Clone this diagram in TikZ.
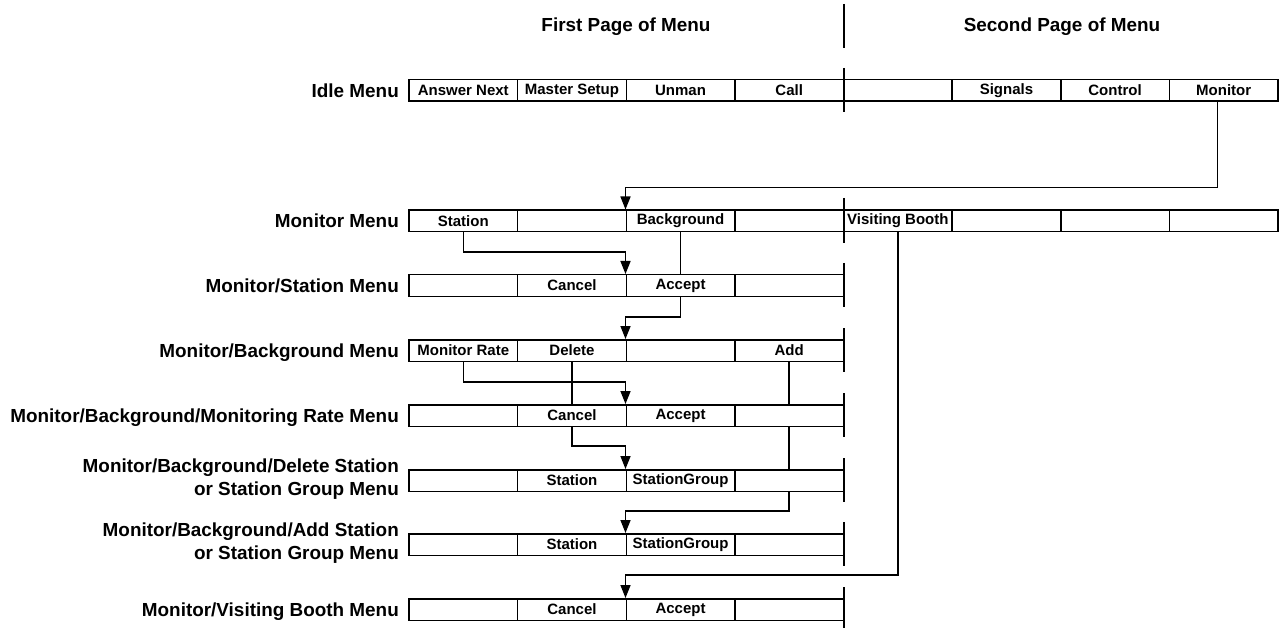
\documentclass[tikz,border=0pt]{standalone}
\usepackage{fontspec}
\setmainfont{Liberation Sans}
\usetikzlibrary{arrows.meta}
\begin{document}
\begin{tikzpicture}[x=1pt,y=-1pt,
  cell/.style={draw,line width=1.5pt,minimum width=108.625pt,minimum height=21.5pt,inner sep=0pt,font=\fontsize{15}{18}\selectfont\bfseries},
  rowlabel/.style={anchor=base east,font=\fontsize{18.9}{23}\selectfont\bfseries,inner sep=0pt},
  rowlabeltwo/.style={anchor=east,align=right,font=\fontsize{18.9}{23.5}\selectfont\bfseries,inner sep=0pt},
  header/.style={anchor=base,font=\fontsize{18.9}{23}\selectfont\bfseries,inner sep=0pt},
  conn/.style={line width=1.5pt},
  arr/.style={conn,-{Triangle[length=13pt,width=10pt]}},
  sep/.style={line width=1.6pt}]
\useasboundingbox (0,0) rectangle (1279,628);

% headers
\node[header] (h1) at (626,31.5) {First Page of Menu};
\node[header] (h2) at (1062,31.5) {Second Page of Menu};

% row labels
\node[rowlabel] (lidle) at (399,97.3) {Idle Menu};
\node[rowlabel] (lmon) at (399,227.8) {Monitor Menu};
\node[rowlabel] (lsta) at (399,292.3) {Monitor/Station Menu};
\node[rowlabel] (lbg) at (399,357.3) {Monitor/Background Menu};
\node[rowlabel] (lrate) at (399,422.3) {Monitor/Background/Monitoring Rate Menu};
\node[rowlabeltwo] (ldel) at (399,479) {Monitor/Background/Delete Station\\or Station Group Menu};
\node[rowlabeltwo] (ladd) at (399,543) {Monitor/Background/Add Station\\or Station Group Menu};
\node[rowlabel] (lvis) at (399,616.3) {Monitor/Visiting Booth Menu};

% rows of cells
\foreach \i/\t in {1/Answer Next,2/Master Setup,3/Unman,4/Call,5/,6/Signals,7/Control,8/Monitor}
  \node[cell] (idle\i) at ({409+108.625*(\i-0.5)},90.5) {\t};
\foreach \i/\t in {1/Station,2/,3/Background,4/,5/Visiting Booth,6/,7/,8/}
  \node[cell] (mon\i) at ({409+108.625*(\i-0.5)},221) {\t};
\foreach \i/\t in {1/,2/Cancel,3/Accept,4/}
  \node[cell] (sta\i) at ({409+108.625*(\i-0.5)},285.5) {\t};
\foreach \i/\t in {1/Monitor Rate,2/Delete,3/,4/Add}
  \node[cell] (bg\i) at ({409+108.625*(\i-0.5)},350.5) {\t};
\foreach \i/\t in {1/,2/Cancel,3/Accept,4/}
  \node[cell] (rate\i) at ({409+108.625*(\i-0.5)},415.5) {\t};
\foreach \i/\t in {1/,2/Station,3/StationGroup,4/}
  \node[cell] (del\i) at ({409+108.625*(\i-0.5)},480.5) {\t};
\foreach \i/\t in {1/,2/Station,3/StationGroup,4/}
  \node[cell] (add\i) at ({409+108.625*(\i-0.5)},544.5) {\t};
\foreach \i/\t in {1/,2/Cancel,3/Accept,4/}
  \node[cell] (vis\i) at ({409+108.625*(\i-0.5)},609.5) {\t};

% page separator
\draw[sep] (844,4) -- (844,48);
\foreach \yt/\yb in {80/101, 210/232, 275/296, 340/361, 405/426, 470/491, 534/555}
  \draw[sep] (844,\yt-12) -- (844,\yb+11);
\draw[sep] (844,587) -- (844,632);

% connectors
\draw[arr] ([xshift=-6pt]idle8.south) |- ([yshift=22pt]mon3.north west) -- (mon3.north west);
\draw[arr] (mon1.south) |- ([yshift=22pt]sta3.north west) -- (sta3.north west);
\draw[conn] (mon3.south) -- (sta3.north);
\draw[arr] (sta3.south) |- ([yshift=22pt]bg3.north west) -- (bg3.north west);
\draw[arr] (bg1.south) |- ([yshift=22pt]rate3.north west) -- (rate3.north west);
\draw[conn] (bg2.south) -- (rate2.north);
\draw[arr] (rate2.south) |- ([yshift=23pt]del3.north west) -- (del3.north west);
\draw[conn] (bg4.south) -- (rate4.north);
\draw[conn] (rate4.south) -- (del4.north);
\draw[arr] (del4.south) |- ([yshift=22pt]add3.north west) -- (add3.north west);
\draw[arr] (mon5.south) |- ([yshift=23pt]vis3.north west) -- (vis3.north west);
\end{tikzpicture}
\end{document}
